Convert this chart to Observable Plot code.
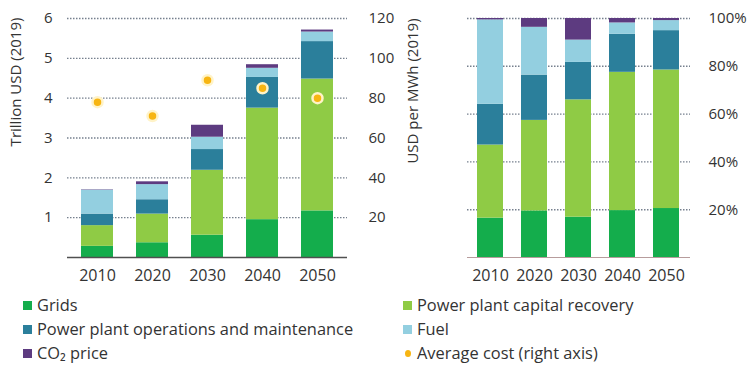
<!DOCTYPE html>
<html><head><meta charset="utf-8">
<script src="https://cdn.jsdelivr.net/npm/d3@7"></script>
<script src="https://cdn.jsdelivr.net/npm/@observablehq/plot@0.6"></script>
<style>
body{margin:0;background:#fff;font-family:"Open Sans",sans-serif;color:#333;}
#wrap{position:relative;width:750px;height:366px;overflow:hidden;}
#charts{display:flex;position:absolute;left:0;top:0;}
#legend{position:absolute;left:23px;top:293px;display:grid;grid-template-columns:380px auto;font-size:16.4px;line-height:24px;color:#333;}
.item{display:flex;align-items:center;white-space:nowrap;}
.sw{width:9px;height:9px;margin-right:5px;flex:none;}
.dotsw{width:6px;height:7px;border-radius:50%;margin:0 6px 0 2px;flex:none;}
</style></head>
<body><div id="wrap"><div id="charts"></div><div id="legend"></div></div>
<script>
const years = ["2010", "2020", "2030", "2040", "2050"];
const grids = [0.28, 0.37, 0.56, 0.95, 1.17];
const capitalRecovery = [0.52, 0.72, 1.63, 2.80, 3.31];
const operations = [0.29, 0.36, 0.52, 0.77, 0.94];
const fuel = [0.60, 0.38, 0.31, 0.23, 0.24];
const co2Price = [0.01, 0.07, 0.30, 0.09, 0.05];
const averageCost = [78, 71, 89, 85, 80];

const seriesNames = ["Grids", "Power plant capital recovery", "Power plant operations and maintenance", "Fuel", "CO\u2082 price"];
const seriesValues = [grids, capitalRecovery, operations, fuel, co2Price];
const seriesColors = ["#14ad4c", "#8fcb45", "#2b7f9b", "#93cfe0", "#5d3b80"];
const avgLabel = "Average cost (right axis)";
const avgColor = "#f7b512";
const leftTitle = "Trillion USD (2019)";
const rightTitle = "USD per MWh (2019)";
const leftTicks = [1, 2, 3, 4, 5, 6];
const rightTicks = [20, 40, 60, 80, 100, 120];
const shareTicks = [0.2, 0.4, 0.6, 0.8, 1.0];

const table = [];
seriesNames.forEach((s, i) => years.forEach((y, j) => table.push({year: y, series: s, value: seriesValues[i][j]})));
const avgData = years.map((y, j) => ({year: y, cost: averageCost[j]}));

const style = {fontFamily: "Open Sans", fontSize: "15px", color: "#333", background: "transparent", overflow: "visible"};
const grid = {stroke: "#76808e", strokeOpacity: 1, strokeDasharray: "1.5,1.5", strokeWidth: 1.4};
const color = {domain: seriesNames, range: seriesColors};

const left = Plot.plot({
  width: 430, height: 290,
  marginLeft: 67, marginRight: 83, marginTop: 18, marginBottom: 33,
  style,
  x: {domain: years, paddingInner: 0.41, paddingOuter: 0.22, axis: null},
  y: {domain: [0, 6], axis: null},
  color,
  marks: [
    Plot.gridY(leftTicks, grid),
    Plot.barY(table, {x: "year", y: "value", fill: "series", order: seriesNames}),
    Plot.ruleY([0], {stroke: "#505050", strokeWidth: 1.5}),
    Plot.dot(avgData, {x: "year", y: d => d.cost / 20, r: 5, fill: avgColor, stroke: "#fff3c8", strokeWidth: 2.5}),
    Plot.axisX({tickSize: 0, tickPadding: 12, fontSize: 16, label: null}),
    Plot.axisY(leftTicks, {anchor: "left", tickSize: 0, tickPadding: 15, label: null}),
    Plot.axisY(rightTicks, {anchor: "right", y: d => d / 20, tickFormat: d => d, tickSize: 0, tickPadding: 21, label: null}),
    Plot.text([leftTitle], {frameAnchor: "left", textAnchor: "middle", rotate: -90, dx: -51, dy: -56, fontSize: 15, fill: "#333"}),
    Plot.text([rightTitle], {frameAnchor: "right", textAnchor: "middle", rotate: -90, dx: 66, dy: -47, fontSize: 15, fill: "#333"})
  ]
});

const right = Plot.plot({
  width: 320, height: 290,
  marginLeft: 37, marginRight: 60, marginTop: 18, marginBottom: 33,
  style,
  x: {domain: years, paddingInner: 0.4, paddingOuter: 0.2, axis: null},
  y: {domain: [0, 1], axis: null},
  color,
  marks: [
    Plot.gridY(shareTicks, grid),
    Plot.barY(table, {x: "year", y: "value", fill: "series", order: seriesNames, offset: "normalize"}),
    Plot.ruleY([0], {stroke: "#b79c9c", strokeWidth: 1.2}),
    Plot.axisX({tickSize: 0, tickPadding: 12, fontSize: 16, label: null}),
    Plot.axisY(shareTicks, {anchor: "right", tickFormat: d3.format(".0%"), tickSize: 0, tickPadding: 18, label: null})
  ]
});

document.getElementById("charts").append(left, right);

const legend = document.getElementById("legend");
const entries = seriesNames.map((n, i) => ({name: n, color: seriesColors[i], dot: false}));
entries.push({name: avgLabel, color: avgColor, dot: true});
for (const e of entries) {
  const div = document.createElement("div");
  div.className = "item";
  const sw = document.createElement("span");
  sw.className = e.dot ? "dotsw" : "sw";
  sw.style.background = e.color;
  const t = document.createElement("span");
  t.textContent = e.name;
  div.append(sw, t);
  legend.append(div);
}
</script></body></html>
